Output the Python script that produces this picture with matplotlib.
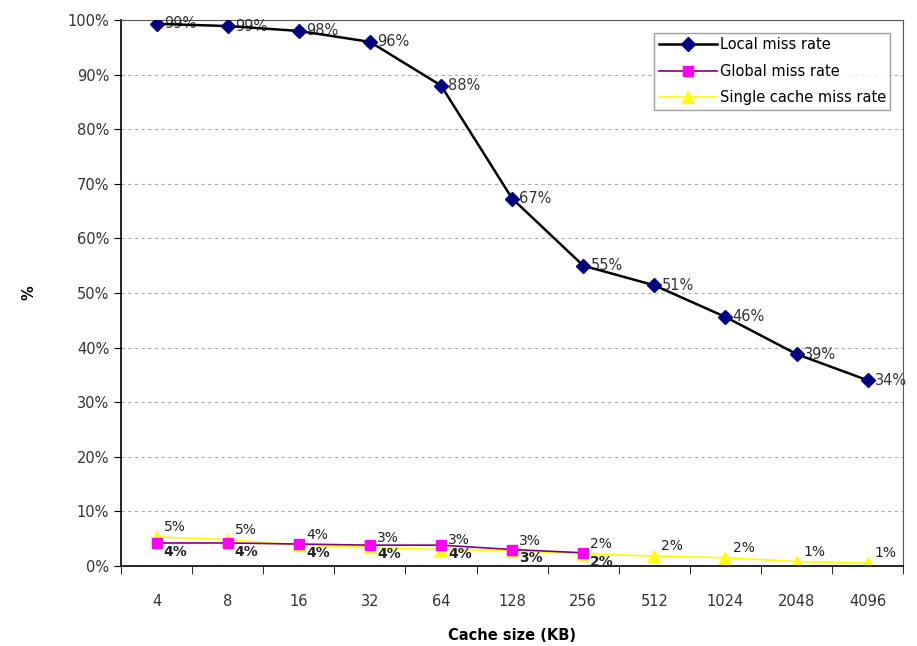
import numpy as np
import matplotlib.pyplot as plt
from matplotlib.ticker import FuncFormatter

# Data
cache_sizes = ["4", "8", "16", "32", "64", "128", "256", "512", "1024", "2048", "4096"]
local_miss = [99.3, 98.9, 98.0, 96.0, 88.0, 67.3, 55.0, 51.4, 45.6, 38.8, 34.0]
local_lbl = ["99%", "99%", "98%", "96%", "88%", "67%", "55%", "51%", "46%", "39%", "34%"]
global_miss = [4.2, 4.2, 4.0, 3.8, 3.8, 3.0, 2.4]
global_lbl = ["4%", "4%", "4%", "4%", "4%", "3%", "2%"]
single_miss = [5.3, 4.8, 3.8, 3.4, 3.0, 2.8, 2.2, 1.8, 1.5, 0.8, 0.5]
single_lbl = ["5%", "5%", "4%", "3%", "3%", "3%", "2%", "2%", "2%", "1%", "1%"]

x = np.arange(len(cache_sizes))

fig = plt.figure(figsize=(9.17, 6.46), dpi=100)
ax = fig.add_axes([0.132, 0.124, 0.853, 0.845])

ax.plot(x, local_miss, color="black", marker="D", markersize=7,
        markerfacecolor="#000080", markeredgecolor="#000080", linewidth=1.8,
        label="Local miss rate", zorder=4)
ax.plot(x[:len(global_miss)], global_miss, color="#800080", marker="s", markersize=7,
        markerfacecolor="#FF00FF", markeredgecolor="#FF00FF", linewidth=1.2,
        label="Global miss rate", zorder=3)
ax.plot(x, single_miss, color="#FFFF00", marker="^", markersize=8,
        markerfacecolor="#FFFF00", markeredgecolor="#FFFF00", linewidth=1.2,
        label="Single cache miss rate", zorder=2)

for xi, v, t in zip(x, local_miss, local_lbl):
    ax.text(xi + 0.1, v, t, fontsize=10.5, color="#333333", va="center", ha="left")
# global labels sit just below, single cache labels just above
for xi, v, t in zip(x, global_miss, global_lbl):
    ax.text(xi + 0.1, v - 1.6, t, fontsize=10, color="#222222", va="center",
            ha="left", fontweight="bold")
for xi, v, t in zip(x, single_miss, single_lbl):
    ax.text(xi + 0.1, v + 1.8, t, fontsize=10, color="#222222", va="center",
            ha="left")

ax.set_xlim(-0.5, len(cache_sizes) - 0.5)
ax.set_ylim(0, 100)
ax.set_yticks(np.arange(0, 101, 10))
ax.yaxis.set_major_formatter(FuncFormatter(lambda v, p: f"{int(v)}%"))
ax.set_xticks(x)
ax.set_xticklabels(cache_sizes)
ax.set_xticks(np.arange(-0.5, len(cache_sizes), 1), minor=True)
ax.tick_params(axis="x", which="major", length=0, pad=20, labelsize=10.5, labelcolor="#333333")
ax.tick_params(axis="x", which="minor", length=6, direction="out")
ax.tick_params(axis="y", length=5, direction="out", labelsize=10.5, labelcolor="#333333")

ax.grid(axis="y", linestyle=(0, (3, 3)), color="#aaaaaa", linewidth=0.8)
ax.set_axisbelow(True)

for s in ["left", "bottom"]:
    ax.spines[s].set_linewidth(1.2)
for s in ["top", "right"]:
    ax.spines[s].set_color("#555555")

ax.set_xlabel("Cache size (KB)", fontsize=10.5, fontweight="bold", labelpad=14)
ax.set_ylabel("%", fontsize=10.5, fontweight="bold", labelpad=22)

leg = ax.legend(loc="upper right", fontsize=10.5, frameon=True, fancybox=False,
                edgecolor="#888888", handlelength=4, borderpad=0.3,
                labelspacing=0.8, handletextpad=0.2, bbox_to_anchor=(0.993, 0.99))

fig.savefig("out.png", dpi=100)
